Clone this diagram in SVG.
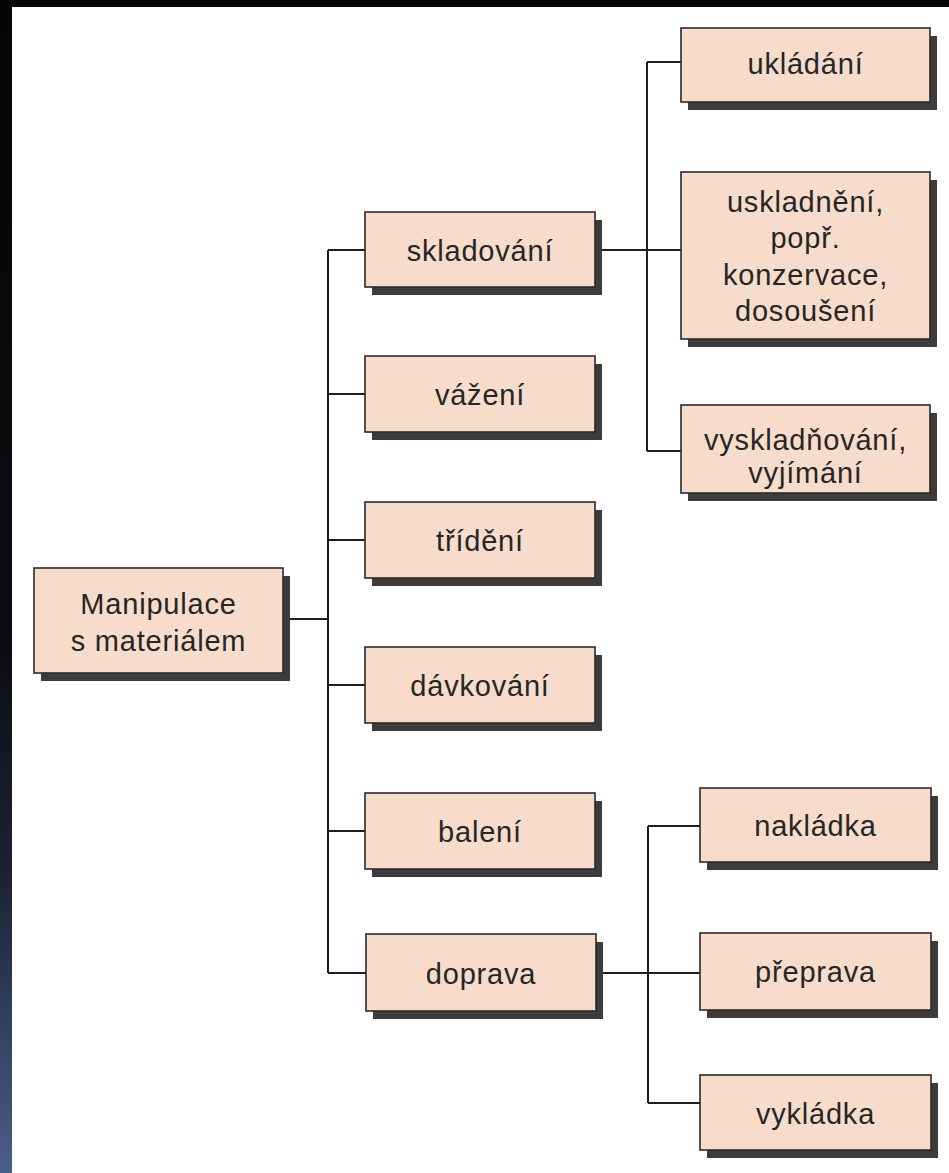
<svg xmlns="http://www.w3.org/2000/svg" width="949" height="1173" viewBox="0 0 949 1173">
<defs>
<linearGradient id="edge" x1="0" y1="0" x2="0" y2="1">
<stop offset="0" stop-color="#050505"/>
<stop offset="0.55" stop-color="#0c0d11"/>
<stop offset="0.75" stop-color="#1b2334"/>
<stop offset="1" stop-color="#4b5e8b"/>
</linearGradient>
<style>
.box{fill:#f8dccb;stroke:#2a2a2a;stroke-width:1.6}
.sh{fill:#3e3c3a}
.t{font-family:"Liberation Sans",Arial,sans-serif;font-size:29px;letter-spacing:0.8px;fill:#262626;text-anchor:middle}
.c{stroke:#1e1e1e;stroke-width:2;fill:none}
</style>
</defs>
<rect x="0" y="0" width="949" height="1173" fill="#ffffff"/>
<rect x="0" y="0" width="12" height="1173" fill="url(#edge)"/>
<rect x="0" y="0" width="949" height="7" fill="#050505"/>

<g id="connectors">
<path class="c" d="M283 619 H328 M328 250 V973 M328 250 H365 M328 394 H365 M328 540 H365 M328 685 H365 M328 831 H365 M328 973 H366"/>
<path class="c" d="M595 250 H681 M647 62 V451 M647 62 H681 M647 451 H681"/>
<path class="c" d="M596 973 H700 M648 826 V1103 M648 826 H700 M648 1103 H700"/>
</g>

<g id="root">
<rect class="sh" x="41" y="576" width="249" height="105"/>
<rect class="box" x="34" y="568" width="249" height="105"/>
<text class="t" x="158.5" y="614">Manipulace</text>
<text class="t" x="158.5" y="651">s materiálem</text>
</g>

<g id="skladovani">
<rect class="sh" x="372" y="220" width="230" height="75"/>
<rect class="box" x="365" y="212" width="230" height="75"/>
<text class="t" x="480" y="261">skladování</text>
</g>
<g id="vazeni">
<rect class="sh" x="372" y="364" width="230" height="76"/>
<rect class="box" x="365" y="356" width="230" height="76"/>
<text class="t" x="480" y="405">vážení</text>
</g>
<g id="trideni">
<rect class="sh" x="372" y="510" width="230" height="76"/>
<rect class="box" x="365" y="502" width="230" height="76"/>
<text class="t" x="480" y="551">třídění</text>
</g>
<g id="davkovani">
<rect class="sh" x="372" y="655" width="230" height="76"/>
<rect class="box" x="365" y="647" width="230" height="76"/>
<text class="t" x="480" y="696">dávkování</text>
</g>
<g id="baleni">
<rect class="sh" x="372" y="801" width="230" height="76"/>
<rect class="box" x="365" y="793" width="230" height="76"/>
<text class="t" x="480" y="842">balení</text>
</g>
<g id="doprava">
<rect class="sh" x="373" y="942" width="230" height="77"/>
<rect class="box" x="366" y="934" width="230" height="77"/>
<text class="t" x="481" y="984">doprava</text>
</g>

<g id="ukladani">
<rect class="sh" x="688" y="36" width="249" height="74"/>
<rect class="box" x="681" y="28" width="249" height="74"/>
<text class="t" x="805.5" y="74">ukládání</text>
</g>
<g id="uskladneni">
<rect class="sh" x="688" y="180" width="249" height="167"/>
<rect class="box" x="681" y="172" width="249" height="167"/>
<text class="t" x="805.5" y="212">uskladnění,</text>
<text class="t" x="805.5" y="248">popř.</text>
<text class="t" x="805.5" y="285">konzervace,</text>
<text class="t" x="805.5" y="321">dosoušení</text>
</g>
<g id="vyskladnovani">
<rect class="sh" x="688" y="413" width="249" height="88"/>
<rect class="box" x="681" y="405" width="249" height="88"/>
<text class="t" x="805.5" y="450">vyskladňování,</text>
<text class="t" x="805.5" y="483">vyjímání</text>
</g>

<g id="nakladka">
<rect class="sh" x="707" y="796" width="231" height="74"/>
<rect class="box" x="700" y="788" width="231" height="74"/>
<text class="t" x="815.5" y="836">nakládka</text>
</g>
<g id="preprava">
<rect class="sh" x="707" y="941" width="231" height="77"/>
<rect class="box" x="700" y="933" width="231" height="77"/>
<text class="t" x="815.5" y="982">přeprava</text>
</g>
<g id="vykladka">
<rect class="sh" x="707" y="1083" width="231" height="75"/>
<rect class="box" x="700" y="1075" width="231" height="75"/>
<text class="t" x="815.5" y="1124">vykládka</text>
</g>
</svg>
